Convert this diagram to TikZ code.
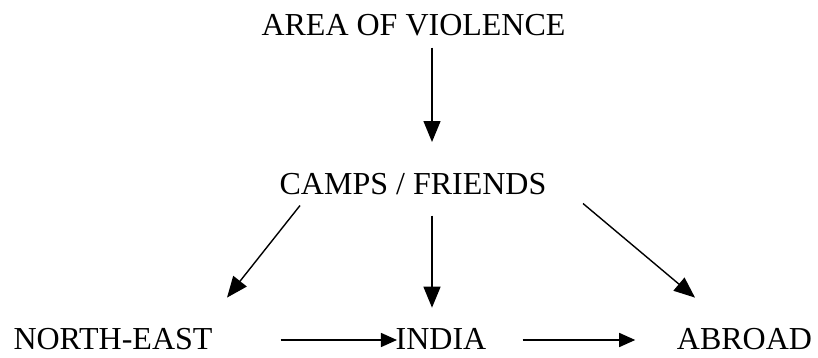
\documentclass[tikz,border=0pt]{standalone}
\usepackage{fontspec}
\setmainfont{Liberation Serif}
\usetikzlibrary{arrows.meta,calc}
\begin{document}
\begin{tikzpicture}[x=1pt,y=1pt,
  lbl/.style={inner sep=0pt,anchor=base,font=\fontsize{32}{36}\selectfont},
  bigarrow/.style={line width=1.4pt,-{Triangle[length=21pt,width=17pt]}},
  smallarrow/.style={line width=1.4pt,-{Triangle[length=16pt,width=14pt]}}]
\useasboundingbox (0,0) rectangle (818,358);
\node[lbl] (av) at (413.5,322) {AREA OF VIOLENCE};
\node[lbl] (cf) at (413,163) {CAMPS / FRIENDS};
\node[lbl] (ne) at (113,8) {NORTH-EAST};
\node[lbl] (in) at (441,8) {INDIA};
\node[lbl] (ab) at (744.5,8) {ABROAD};
\draw[bigarrow] ($(av.south)+(18.5,-11)$) -- ($(cf.north)+(19,31.6)$);
\draw[bigarrow] ($(cf.south)+(-113,-10)$) -- ($(ne.north)+(114,31)$);
\draw[bigarrow] ($(cf.south)+(19,-20)$) -- ($(in.north)+(-9,21)$);
\draw[bigarrow] ($(cf.south)+(170,-8)$) -- ($(ab.north)+(-49.5,31)$);
\draw[smallarrow] ($(ne.base east)+(68,10)$) -- ($(in.base west)+(1.5,10)$);
\draw[smallarrow] ($(in.base east)+(36,10)$) -- ($(ab.base west)+(-41.5,10)$);
\end{tikzpicture}
\end{document}
